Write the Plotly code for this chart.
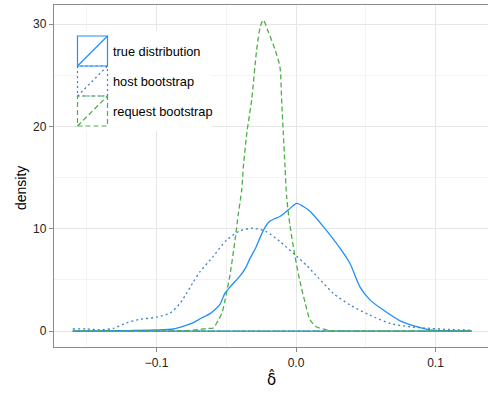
import plotly.graph_objects as go

# ---- data ----
true_x = [-0.160, -0.140, -0.120, -0.100, -0.088, -0.080, -0.0736, -0.068, -0.0616, -0.0580,
          -0.0545, -0.0509, -0.046, -0.0401, -0.036, -0.033, -0.029, -0.0246, -0.021, -0.0186,
          -0.0150, -0.0115, -0.0055, 0.0005, 0.005, 0.010, 0.0196, 0.0315, 0.0387, 0.0459,
          0.053, 0.0626, 0.0746, 0.0865, 0.096, 0.110, 0.126]
true_y = [0.0, 0.02, 0.05, 0.1, 0.2, 0.5, 0.82, 1.25, 1.7, 2.1,
          2.6, 3.7, 4.5, 5.4, 6.2, 7.1, 8.1, 9.5, 10.4, 10.75,
          11.0, 11.2, 11.85, 12.48, 12.2, 11.7, 10.2, 8.1, 6.6, 4.3,
          3.05, 2.05, 1.0, 0.42, 0.12, 0.03, 0.0]

host_x = [-0.160, -0.150, -0.1405, -0.131, -0.1214, -0.1118, -0.100, -0.0903, -0.0832, -0.0784,
          -0.0736, -0.0688, -0.0593, -0.0497, -0.0401, -0.0306, -0.021, -0.0115, -0.002, 0.0077,
          0.0160, 0.0267, 0.0387, 0.053, 0.0674, 0.0817, 0.096, 0.110, 0.126]
host_y = [0.2, 0.2, 0.12, 0.26, 0.8, 1.15, 1.35, 1.75, 2.7, 3.7,
          4.8, 5.8, 7.3, 8.9, 9.8, 10.05, 9.7, 8.75, 7.6, 6.4,
          5.2, 3.7, 2.55, 1.55, 0.75, 0.42, 0.26, 0.15, 0.08]

req_x = [-0.160, -0.100, -0.080, -0.0688, -0.064, -0.0593, -0.0560, -0.0530, -0.0509, -0.0473,
         -0.0437, -0.0413, -0.0389, -0.0377, -0.0353, -0.0318, -0.0282, -0.0255, -0.0234, -0.0200,
         -0.0150, -0.0115, -0.0103, -0.0091, -0.0079, -0.0067, -0.0043, -0.0007, 0.0029, 0.0065,
         0.010, 0.0148, 0.0196, 0.0244, 0.040, 0.126]
req_y = [0.0, 0.0, 0.02, 0.15, 0.25, 0.3, 1.0, 1.8, 3.0, 5.5,
         8.9, 11.5, 13.8, 16.1, 19.3, 22.6, 27.5, 29.8, 30.4, 29.3,
         27.5, 25.8, 22.6, 19.3, 16.1, 13.1, 10.3, 7.3, 4.8, 2.8,
         1.1, 0.4, 0.2, 0.05, 0.0, 0.0]

series_names = ["true distribution", "host bootstrap", "request bootstrap"]
x_ticks = [-0.1, 0.0, 0.1]
y_ticks = [0, 10, 20, 30]
x_title = "δ̂"
y_title = "density"

# ---- styling ----
colors = ["#1f8fff", "#3d7fc8", "#4caf48"]
dashes = ["solid", "2px,3px", "5px,3px"]
W, H = 489, 395
ML, MR, MT, MB = 54, 1, 5, 48
FONT = "Liberation Sans, Arial, Helvetica, sans-serif"

fig = go.Figure()
data = [(true_x, true_y), (host_x, host_y), (req_x, req_y)]
for (xs, ys), name, c, d in zip(data, series_names, colors, dashes):
    fig.add_trace(go.Scatter(x=xs, y=ys, mode="lines", name=name,
                             line=dict(color=c, width=1.3, dash=d, shape="spline", smoothing=0.7),
                             showlegend=False, hoverinfo="skip"))
    fig.add_trace(go.Scatter(x=[xs[0], xs[-1]], y=[0, 0], mode="lines",
                             line=dict(color=c, width=1.3, dash=d),
                             showlegend=False, hoverinfo="skip"))

# ---- custom ggplot-like legend (box keys with diagonal) ----
pw, ph = W - ML - MR, H - MT - MB
def px(xp):
    return (xp - ML) / pw
def py(yp):
    return (H - MB - yp) / ph

shapes = []
shapes.append(dict(type="rect", xref="paper", yref="paper", layer="above",
                   x0=px(77), x1=px(212), y0=py(131), y1=py(31),
                   fillcolor="white", line=dict(width=0)))
key_left, key_size, key_top = 77.5, 30, 36
for i, (name, c, d) in enumerate(zip(series_names, colors, dashes)):
    t = key_top + i * key_size
    b = t + key_size
    shapes.append(dict(type="rect", xref="paper", yref="paper", layer="above",
                       x0=px(key_left), x1=px(key_left + key_size), y0=py(b), y1=py(t),
                       line=dict(color=c, width=1.2, dash=d)))
    shapes.append(dict(type="line", xref="paper", yref="paper", layer="above",
                       x0=px(key_left), x1=px(key_left + key_size), y0=py(b), y1=py(t),
                       line=dict(color=c, width=1.3, dash=d)))
    fig.add_annotation(text=name, xref="paper", yref="paper", x=px(110.5), y=py(t + key_size / 2),
                       xanchor="left", yanchor="middle", showarrow=False,
                       font=dict(family=FONT, size=12.8, color="#000000"))

# axis titles as annotations (fixed positions)
fig.add_annotation(text=x_title, xref="paper", yref="paper", x=px(271), y=py(379),
                   xanchor="center", yanchor="middle", showarrow=False,
                   font=dict(family="DejaVu Sans, " + FONT, size=15, color="#000000"))
fig.add_annotation(text=y_title, xref="paper", yref="paper", x=px(21), y=py(188),
                   xanchor="center", yanchor="middle", showarrow=False, textangle=-90,
                   font=dict(family=FONT, size=14, color="#000000"))

fig.update_layout(
    width=W, height=H,
    margin=dict(l=ML, r=MR, t=MT, b=MB, pad=0, autoexpand=False),
    paper_bgcolor="white", plot_bgcolor="white",
    font=dict(family=FONT, size=12, color="#222222"),
    shapes=shapes,
    showlegend=False,
)
fig.update_xaxes(
    range=[-0.17348, 0.13763], tickvals=x_ticks, tickformat=".1f", automargin=False,
    showgrid=True, gridcolor="#e6e6e6", gridwidth=1,
    minor=dict(showgrid=True, gridcolor="#f3f3f3", gridwidth=1, tick0=0, dtick=0.05),
    zeroline=False, showline=True, linecolor="#8a8a8a", linewidth=1.2, mirror=True,
    ticks="outside", ticklen=4, tickcolor="#8a8a8a", tickwidth=1,
    tickfont=dict(family=FONT, size=12, color="#222222"),
)
fig.update_yaxes(
    range=[-1.56, 31.87], tickvals=y_ticks, automargin=False,
    showgrid=True, gridcolor="#e6e6e6", gridwidth=1,
    minor=dict(showgrid=True, gridcolor="#f3f3f3", gridwidth=1, tick0=0, dtick=5),
    zeroline=False, showline=True, linecolor="#8a8a8a", linewidth=1.2,
    ticks="outside", ticklen=4, tickcolor="#8a8a8a", tickwidth=1,
    tickfont=dict(family=FONT, size=12, color="#222222"),
)

fig.write_html("out.html",
               config={"displayModeBar": False, "staticPlot": True},
               post_script="document.body.style.margin='0';document.body.style.overflow='hidden';")
